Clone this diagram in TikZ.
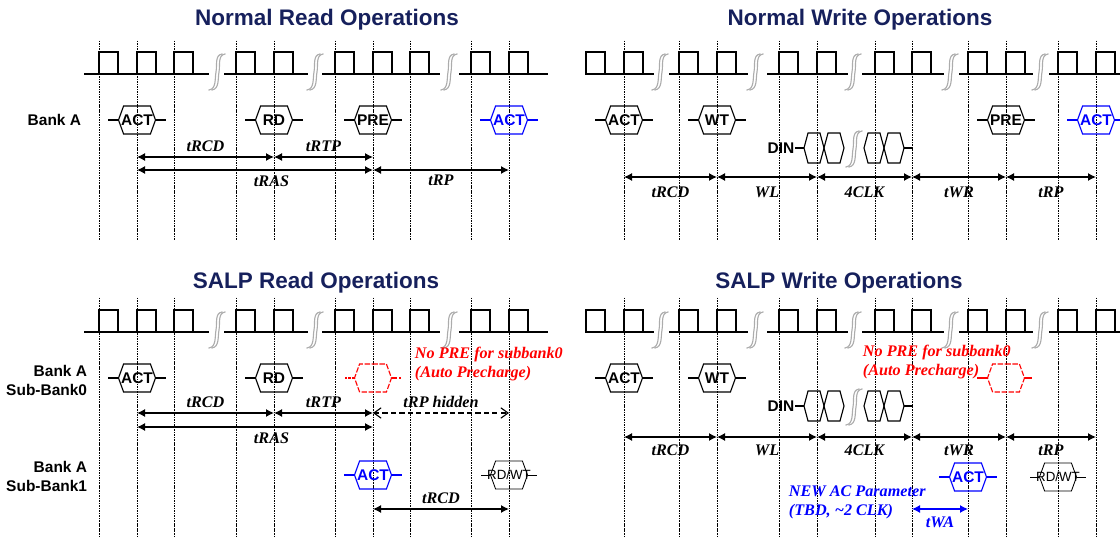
\documentclass[tikz,border=0pt]{standalone}
\usepackage{fontspec}
\setmainfont{Liberation Serif}
\setsansfont{Liberation Sans}
\usepackage{tikz}
\usetikzlibrary{arrows.meta,shapes.symbols,calc}
\definecolor{TitelNavy}{RGB}{22,32,92}
\definecolor{CmdBlue}{RGB}{0,0,255}
\definecolor{CmdRed}{RGB}{255,0,0}

\tikzset{
  ttl/.style={font=\sffamily\bfseries\fontsize{16}{18}\selectfont,text=TitelNavy},
  bank/.style={font=\sffamily\bfseries\fontsize{11}{13.5}\selectfont,align=right,anchor=east},
  cmdbox/.style={shape=signal,signal to=east and west,signal pointer angle=140,draw,
    line width=0.8pt,minimum width=0.925cm,minimum height=0.7cm,inner xsep=-2pt,inner ysep=0pt,
    font=\sffamily\bfseries\fontsize{11}{13}\selectfont},
  beat/.style={shape=signal,signal to=east and west,signal pointer angle=150,draw,
    line width=0.8pt,minimum width=0.5cm,minimum height=0.75cm,inner sep=0pt},
  clk/.style={line width=0.8pt},
  vline/.style={line width=0.55pt,dash pattern=on 0.6pt off 1.2pt},
  tarr/.style={{Latex[length=2mm,width=2mm]}-{Latex[length=2mm,width=2mm]},line width=0.9pt},
  tlab/.style={font=\bfseries\itshape\fontsize{11.5}{13}\selectfont},
  notetxt/.style={font=\bfseries\itshape\fontsize{11.5}{13.5}\selectfont,align=left,anchor=west},
  brk/.pic={
    \draw[gray!65,line width=0.8pt] (-8,18) to[out=10,in=-100] (-1,0) to[out=80,in=190] (5,-18);
    \draw[gray!65,line width=0.8pt] (-5,18) to[out=10,in=-100] (2,0) to[out=80,in=190] (8,-18);
  }
}

\begin{document}
\begin{tikzpicture}[x=0.025cm,y=-0.025cm,line cap=rect]
  \useasboundingbox (0,0) rectangle (1120,538);

  % titles
  \node[ttl] (t1) at (327,20) {Normal Read Operations};
  \node[ttl] (t2) at (860,20) {Normal Write Operations};
  \node[ttl] (t3) at (316,283) {SALP Read Operations};
  \node[ttl] (t4) at (839,283) {SALP Write Operations};

  % timing grid
  \foreach \x [count=\i] in {99,137,174,236,274,335,373,410,471,509} {
    \draw[vline] (\x,41) -- (\x,240) (\x,298) -- (\x,538);
    \coordinate (R\i) at (\x,0);
  }
  \foreach \x [count=\i] in {624,679,717,779,817,875,912,968,1006,1058,1096} {
    \draw[vline] (\x,41) -- (\x,240) (\x,298) -- (\x,538);
    \coordinate (W\i) at (\x,0);
  }

  % clocks
  \foreach \yo in {0,258} {
    \foreach \s/\e in {85/208,225/307,323/439,460/547,586/653,670/747,768/847,863/943,960/1032,1050/1120}
      \draw[clk] (\s,74+\yo) -- (\e,74+\yo);
    \foreach \r in {99,137,174,236,274,335,373,410,471,509,586,624,679,717,779,817,875,912,968,1006,1058,1096}
      \draw[clk] (\r,74+\yo) |- (\r+19,52+\yo) -- (\r+19,74+\yo);
    \foreach \b in {217,315,449,660,755,853,950,1040}
      \pic at (\b,72+\yo) {brk};
  }

  % bank labels
  \node[bank] (bankA) at (86,120) {Bank A};
  \node[bank] (sub0) at (92,380) {Bank A\\Sub-Bank0};
  \node[bank] (sub1) at (92,476) {Bank A\\Sub-Bank1};

  % commands
  \foreach \n/\x/\y/\t/\c in {ra1/R2/120/ACT/black, ra2/R5/120/RD/black, ra3/R7/120/PRE/black,
      ra4/R10/120/ACT/CmdBlue, wa1/W1/120/ACT/black, wa2/W3/120/WT/black, wa3/W9/120/PRE/black,
      wa4/W11/120/ACT/CmdBlue, sr1/R2/378/ACT/black, sr2/R5/378/RD/black, sr3/R7/475/ACT/CmdBlue,
      sw1/W1/378/ACT/black, sw2/W3/378/WT/black, sw3/W8/477/ACT/CmdBlue} {
    \node[cmdbox,\c] (\n) at (\x |- 0,\y) {\t};
    \draw[\c,line width=0.8pt] (\n.west) -- ++(-9,0) (\n.east) -- ++(9,0);
  }
  % no precharge (dashed)
  \node[cmdbox,CmdRed,dash pattern=on 3pt off 2pt] (sr0) at (R7 |- 0,378) {};
  \draw[CmdRed,line width=0.8pt,dotted] (sr0.west) -- ++(-8,0);
  \draw[CmdRed,line width=0.8pt,dash pattern=on 3pt off 2pt] (sr0.east) -- ++(8,0);
  \node[cmdbox,CmdRed,dash pattern=on 3pt off 2pt] (sw0) at (W9 |- 0,378) {};
  \draw[CmdRed,line width=0.8pt] (sw0.west) -- ++(-9,0) (sw0.east) -- ++(6,0);
  % RD/WT on sub-bank1
  \foreach \n/\x/\y in {sr4/R10/475, sw4/W10/477} {
    \node[cmdbox,line width=0.6pt,label={[font=\sffamily\fontsize{9.5}{11}\selectfont]center:RD/WT}] (\n) at (\x |- 0,\y) {};
    \draw[line width=0.6pt] (\n.west) -- ++(-9,0) (\n.east) -- ++(9,0);
  }

  % write data
  \foreach \yo/\p in {0/d,258/e} {
    \node[font=\sffamily\bfseries\fontsize{11}{13}\selectfont,anchor=east,inner sep=1pt] (\p0) at (796,148+\yo) {DIN};
    \foreach \n/\x in {1/814,2/834,3/874,4/894}
      \node[beat] (\p\n) at (\x,148+\yo) {};
    \draw[line width=0.8pt] (\p0) -- (\p1);
    \draw[line width=0.8pt] (\p4.east) -- ++(8,0);
    \pic at (854,149+\yo) {brk};
  }

  % normal read
  \draw[tarr] (R2 |- 0,157) -- node[tlab,above]{tRCD} (R5 |- 0,157);
  \draw[tarr] (R5 |- 0,157) -- node[tlab,above]{tRTP} (R7 |- 0,157);
  \draw[tarr] (R2 |- 0,170) -- node[tlab,below,pos=0.57]{tRAS} (R7 |- 0,170);
  \draw[tarr] (R7 |- 0,170) -- node[tlab,below]{tRP} (R10 |- 0,170);

  % normal write
  \draw[tarr] (W1 |- 0,177) -- node[tlab,below,yshift=-3pt]{tRCD} (W3 |- 0,177);
  \draw[tarr] (W3 |- 0,177) -- node[tlab,below,yshift=-3pt]{WL} (W5 |- 0,177);
  \draw[tarr] (W5 |- 0,177) -- node[tlab,below,yshift=-3pt]{4CLK} (W7 |- 0,177);
  \draw[tarr] (W7 |- 0,177) -- node[tlab,below,yshift=-3pt]{tWR} (W9 |- 0,177);
  \draw[tarr] (W9 |- 0,177) -- node[tlab,below,yshift=-3pt]{tRP} (W11 |- 0,177);

  % SALP read
  \draw[tarr] (R2 |- 0,413) -- node[tlab,above]{tRCD} (R5 |- 0,413);
  \draw[tarr] (R5 |- 0,413) -- node[tlab,above]{tRTP} (R7 |- 0,413);
  \draw[tarr] (R2 |- 0,427) -- node[tlab,below,pos=0.57]{tRAS} (R7 |- 0,427);
  \draw[{Straight Barb[length=1.8mm,width=2.6mm]}-{Straight Barb[length=1.8mm,width=2.6mm]},line width=0.8pt,dashed]
    (R7 |- 0,413) -- node[tlab,above]{tRP hidden} (R10 |- 0,413);
  \draw[tarr] (R7 |- 0,509) -- node[tlab,above]{tRCD} (R10 |- 0,509);
  \node[notetxt,text=CmdRed] (nopre1) at (410,364) {No PRE for subbank0\\(Auto Precharge)};

  % SALP write
  \draw[tarr] (W1 |- 0,437) -- node[tlab,below,yshift=-2pt]{tRCD} (W3 |- 0,437);
  \draw[tarr] (W3 |- 0,437) -- node[tlab,below,yshift=-2pt]{WL} (W5 |- 0,437);
  \draw[tarr] (W5 |- 0,437) -- node[tlab,below,yshift=-2pt]{4CLK} (W7 |- 0,437);
  \draw[tarr] (W7 |- 0,437) -- node[tlab,below,yshift=-2pt]{tWR} (W9 |- 0,437);
  \draw[tarr] (W9 |- 0,437) -- node[tlab,below,yshift=-2pt]{tRP} (W11 |- 0,437);
  \node[notetxt,text=CmdRed] (nopre2) at (858,362) {No PRE for subbank0\\(Auto Precharge)};
  \node[notetxt,text=CmdBlue] (newac) at (784,502) {NEW AC Parameter\\(TBD, \textasciitilde2 CLK)};
  \draw[tarr,CmdBlue] (W7 |- 0,509) -- node[tlab,below,yshift=-2pt]{tWA} (W8 |- 0,509);
\end{tikzpicture}
\end{document}
